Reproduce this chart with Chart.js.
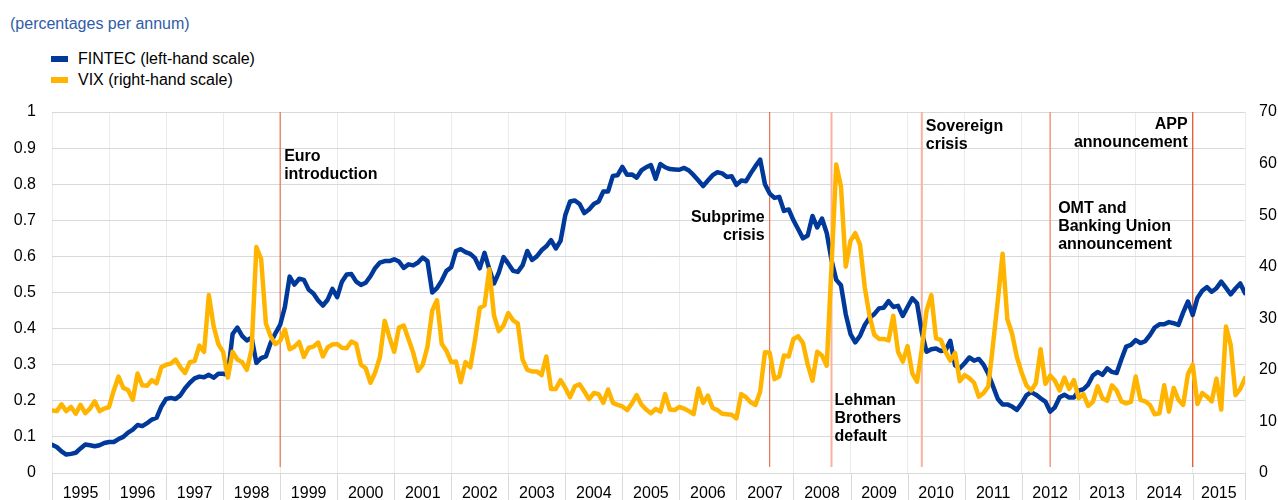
<!DOCTYPE html>
<html>
<head>
<meta charset="utf-8">
<script src="https://cdn.jsdelivr.net/npm/chart.js@4.4.1/dist/chart.umd.min.js"></script>
<style>
  body { margin: 0; background: #fff; font-family: 'Liberation Sans', Arial, sans-serif; }
  #wrap { position: relative; width: 1278px; height: 500px; overflow: hidden; }
  #title { position: absolute; left: 10px; top: 15px; font-size: 16px; line-height: 18px; color: #2f5da8; }
  .legend-item { position: absolute; left: 51px; font-size: 16px; line-height: 18px; color: #000; white-space: nowrap; }
  .legend-item .swatch { position: absolute; left: 0; top: 6px; width: 17px; height: 6px; }
  .legend-item .text { margin-left: 27px; }
  canvas { position: absolute; left: 0; top: 0; }
</style>
</head>
<body>
<div id="wrap">
  <div id="title">(percentages per annum)</div>
  <div class="legend-item" style="top: 50px;"><span class="swatch" style="background:#00399a"></span><span class="text">FINTEC (left-hand scale)</span></div>
  <div class="legend-item" style="top: 71px;"><span class="swatch" style="background:#ffb400"></span><span class="text">VIX (right-hand scale)</span></div>
  <canvas id="chart" width="1278" height="500"></canvas>
</div>
<script>
// year labels on the time axis (monthly data, Jan 1995 - Dec 2015)
const years = ['1995', '1996', '1997', '1998', '1999', '2000', '2001', '2002', '2003', '2004', '2005',
    '2006', '2007', '2008', '2009', '2010', '2011', '2012', '2013', '2014', '2015'];

// left-hand scale ticks / right-hand scale ticks
const leftTicks = [0, 0.1, 0.2, 0.3, 0.4, 0.5, 0.6, 0.7, 0.8, 0.9, 1];
const rightTicks = [0, 10, 20, 30, 40, 50, 60, 70];

// FINTEC, monthly (left-hand scale)
const fintec = [
    0.078, 0.072, 0.060, 0.051, 0.053, 0.056, 0.068, 0.079, 0.077, 0.074, 0.077, 0.083, // 1995
    0.086, 0.086, 0.094, 0.100, 0.112, 0.120, 0.133, 0.130, 0.138, 0.148, 0.153, 0.184, // 1996
    0.205, 0.208, 0.205, 0.215, 0.235, 0.250, 0.262, 0.267, 0.265, 0.272, 0.264, 0.275, // 1997
    0.275, 0.272, 0.385, 0.403, 0.380, 0.367, 0.375, 0.305, 0.318, 0.323, 0.360, 0.387, // 1998
    0.410, 0.460, 0.544, 0.522, 0.538, 0.535, 0.508, 0.497, 0.478, 0.464, 0.480, 0.510, // 1999
    0.487, 0.530, 0.550, 0.551, 0.530, 0.521, 0.527, 0.545, 0.568, 0.583, 0.587, 0.587, // 2000
    0.592, 0.586, 0.568, 0.578, 0.575, 0.583, 0.597, 0.587, 0.500, 0.512, 0.533, 0.560, // 2001
    0.570, 0.615, 0.620, 0.612, 0.607, 0.595, 0.567, 0.610, 0.565, 0.525, 0.555, 0.598, // 2002
    0.580, 0.560, 0.557, 0.575, 0.615, 0.590, 0.600, 0.617, 0.628, 0.645, 0.622, 0.643, // 2003
    0.715, 0.752, 0.755, 0.745, 0.720, 0.730, 0.745, 0.752, 0.780, 0.780, 0.823, 0.825, // 2004
    0.848, 0.826, 0.827, 0.818, 0.838, 0.847, 0.853, 0.815, 0.856, 0.847, 0.842, 0.841, // 2005
    0.840, 0.845, 0.838, 0.825, 0.810, 0.795, 0.810, 0.825, 0.833, 0.830, 0.820, 0.822, // 2006
    0.798, 0.810, 0.808, 0.830, 0.850, 0.868, 0.800, 0.774, 0.762, 0.765, 0.726, 0.730, // 2007
    0.700, 0.675, 0.650, 0.658, 0.712, 0.680, 0.705, 0.665, 0.590, 0.535, 0.520, 0.440, // 2008
    0.385, 0.362, 0.380, 0.410, 0.430, 0.440, 0.456, 0.458, 0.476, 0.460, 0.463, 0.435, // 2009
    0.460, 0.484, 0.470, 0.390, 0.336, 0.343, 0.345, 0.338, 0.340, 0.366, 0.298, 0.290, // 2010
    0.304, 0.320, 0.311, 0.316, 0.300, 0.274, 0.240, 0.205, 0.190, 0.190, 0.184, 0.175, // 2011
    0.193, 0.215, 0.224, 0.217, 0.207, 0.198, 0.170, 0.182, 0.210, 0.217, 0.209, 0.209, // 2012
    0.228, 0.232, 0.245, 0.270, 0.280, 0.272, 0.290, 0.280, 0.277, 0.315, 0.350, 0.355, // 2013
    0.368, 0.360, 0.365, 0.382, 0.403, 0.412, 0.412, 0.418, 0.415, 0.410, 0.445, 0.475, // 2014
    0.438, 0.485, 0.505, 0.515, 0.502, 0.512, 0.530, 0.513, 0.495, 0.511, 0.525, 0.498  // 2015
];

// VIX, monthly (right-hand scale)
const vix = [
    12.1, 12.0, 13.3, 12.0, 12.8, 11.5, 13.2, 11.6, 12.5, 13.9, 12.0, 12.5, // 1995
    12.8, 16.0, 18.7, 16.5, 16.1, 14.2, 19.3, 17.0, 16.9, 18.0, 17.4, 20.5, // 1996
    21.0, 21.2, 22.0, 20.5, 19.4, 21.5, 21.7, 24.7, 23.5, 34.5, 28.5, 25.0, // 1997
    23.5, 18.5, 23.5, 22.0, 21.5, 20.0, 24.0, 43.8, 41.5, 29.0, 26.5, 25.0, // 1998
    25.6, 27.8, 24.0, 24.5, 25.4, 22.5, 24.3, 24.5, 25.3, 22.6, 24.4, 24.9, // 1999
    25.0, 24.3, 24.2, 25.5, 25.0, 21.0, 20.3, 17.5, 19.5, 22.5, 29.5, 26.3, // 2000
    23.5, 28.2, 28.6, 26.0, 23.3, 19.8, 21.0, 24.5, 31.5, 33.5, 25.0, 23.7, // 2001
    21.5, 21.6, 17.6, 21.5, 20.5, 25.8, 32.0, 32.5, 39.5, 30.5, 27.5, 28.6, // 2002
    31.0, 29.6, 29.0, 22.0, 20.0, 19.7, 19.7, 19.0, 22.6, 16.3, 16.3, 18.0, // 2003
    16.5, 14.7, 16.8, 17.2, 15.8, 14.3, 15.5, 15.3, 13.6, 16.2, 13.6, 13.2, // 2004
    12.9, 12.2, 13.5, 15.1, 13.3, 12.3, 11.6, 12.4, 11.9, 15.3, 12.3, 12.2, // 2005
    12.8, 12.5, 12.0, 11.4, 16.4, 13.6, 15.0, 12.6, 12.2, 11.5, 11.4, 11.3, // 2006
    10.6, 15.3, 14.7, 13.7, 13.2, 15.8, 23.4, 23.3, 18.2, 18.7, 22.8, 22.6, // 2007
    26.0, 26.5, 25.2, 21.0, 17.9, 23.5, 22.8, 20.8, 40.0, 59.8, 55.5, 40.0, // 2008
    45.0, 46.5, 44.3, 36.0, 30.5, 26.8, 26.0, 26.0, 25.7, 30.5, 23.5, 21.6, // 2009
    24.6, 19.3, 17.7, 24.0, 31.5, 34.5, 26.1, 25.8, 23.5, 21.8, 23.3, 17.8, // 2010
    19.0, 18.4, 17.5, 14.8, 15.5, 16.8, 25.0, 33.5, 42.5, 29.8, 27.0, 22.5, // 2011
    19.5, 17.0, 16.0, 17.4, 24.0, 17.3, 18.9, 17.9, 16.0, 18.5, 16.3, 18.0, // 2012
    14.5, 15.3, 13.0, 13.8, 16.8, 14.5, 14.0, 17.0, 16.0, 13.9, 13.5, 13.8, // 2013
    18.7, 14.2, 13.9, 13.2, 11.4, 11.6, 17.0, 11.9, 16.5, 14.2, 13.2, 19.2, // 2014
    21.0, 13.4, 15.5, 14.8, 13.9, 18.3, 12.3, 28.4, 24.8, 15.1, 16.3, 18.4  // 2015
];

// events marked with vertical lines (date as fractional year)
const eventDates = [1999 + 0 / 12, 2007 + 7 / 12, 2008 + 8 / 12, 2010 + 3 / 12, 2012 + 6 / 12, 2015 + 0 / 12];
const eventLabels = [
    ['Euro', 'introduction'],
    ['Subprime', 'crisis'],
    ['Lehman', 'Brothers', 'default'],
    ['Sovereign', 'crisis'],
    ['OMT and', 'Banking Union', 'announcement'],
    ['APP', 'announcement']
];

const FONT = "'Liberation Sans', Arial, sans-serif";
const xMin = 1995;
const xMax = 2015 + 11 / 12;

// look of each event line and where its label sits
const eventStyle = [
    { color: '#e4572e', width: 1, align: 'left', dx: 4, y: 157 },
    { color: '#e4572e', width: 1, align: 'right', dx: -5, y: 218 },
    { color: '#f7b39c', width: 2, align: 'left', dx: 3, y: 401 },
    { color: '#f7b39c', width: 2, align: 'left', dx: 4, y: 127 },
    { color: '#ee8a6a', width: 1.3, align: 'left', dx: 8, y: 209 },
    { color: '#e4572e', width: 1.3, align: 'right', dx: -5, y: 125 }
];

const eventPlugin = {
    id: 'events',
    beforeDatasetsDraw(chart) {
        const { ctx, chartArea, scales } = chart;
        ctx.save();
        eventDates.forEach((d, k) => {
            const x = scales.x.getPixelForValue(d);
            ctx.strokeStyle = eventStyle[k].color;
            ctx.lineWidth = eventStyle[k].width;
            ctx.beginPath();
            ctx.moveTo(x, chartArea.top);
            ctx.lineTo(x, chartArea.bottom - 6);
            ctx.stroke();
        });
        // year separators below the axis
        ctx.strokeStyle = '#d9d9d9';
        ctx.lineWidth = 1;
        const marks = years.map(Number).concat([xMax]);
        marks.forEach(v => {
            const x = Math.round(scales.x.getPixelForValue(v)) + 0.5;
            ctx.beginPath();
            ctx.moveTo(x, chartArea.bottom);
            ctx.lineTo(x, chart.height);
            ctx.stroke();
        });
        ctx.restore();
    },
    afterDatasetsDraw(chart) {
        const { ctx, scales } = chart;
        ctx.save();
        ctx.font = 'bold 16px ' + FONT;
        ctx.fillStyle = '#000';
        ctx.textBaseline = 'middle';
        eventLabels.forEach((lines, k) => {
            const st = eventStyle[k];
            const x = scales.x.getPixelForValue(eventDates[k]) + st.dx;
            ctx.textAlign = st.align;
            lines.forEach((t, j) => ctx.fillText(t, x, st.y + j * 18));
        });
        ctx.restore();
    }
};

const ctx = document.getElementById('chart').getContext('2d');
new Chart(ctx, {
    type: 'line',
    data: {
        datasets: [
            {
                label: 'FINTEC (left-hand scale)',
                data: fintec.map((v, i) => ({ x: xMin + i / 12, y: v })),
                borderColor: '#00399a',
                borderWidth: 4.5,
                yAxisID: 'y',
                order: 1
            },
            {
                label: 'VIX (right-hand scale)',
                data: vix.map((v, i) => ({ x: xMin + i / 12, y: v })),
                borderColor: '#ffb400',
                borderWidth: 4.5,
                yAxisID: 'y2',
                order: 0
            }
        ]
    },
    options: {
        responsive: false,
        animation: false,
        elements: {
            point: { radius: 0 },
            line: { tension: 0, borderJoinStyle: 'round', borderCapStyle: 'round' }
        },
        layout: { padding: { top: 112, left: 0, right: 0, bottom: 0 } },
        plugins: {
            legend: { display: false },
            tooltip: { enabled: false }
        },
        scales: {
            x: {
                type: 'linear',
                min: xMin,
                max: xMax,
                afterBuildTicks(scale) {
                    const t = [];
                    years.forEach((y, k) => {
                        const start = Number(y);
                        const end = k < years.length - 1 ? start + 1 : xMax;
                        t.push({ value: start });
                        t.push({ value: (start + end) / 2, yr: y });
                    });
                    t.push({ value: xMax });
                    scale.ticks = t;
                },
                afterFit(scale) { scale.height = 27; },
                grid: {
                    color: c => (c.tick && c.tick.yr) ? 'rgba(0,0,0,0)' : '#ebebeb',
                    lineWidth: 1,
                    drawTicks: false
                },
                border: { display: false },
                ticks: {
                    autoSkip: false,
                    maxRotation: 0,
                    padding: 11,
                    color: '#000',
                    font: { family: FONT, size: 16 },
                    callback: (value, index, ticks) => ticks[index].yr || ''
                }
            },
            y: {
                position: 'left',
                min: 0,
                max: 1,
                afterBuildTicks(scale) { scale.ticks = leftTicks.map(v => ({ value: v })); },
                afterFit(scale) { scale.width = 52; },
                grid: { color: '#d9d9d9', lineWidth: 1, drawTicks: false },
                border: { display: false },
                ticks: {
                    padding: 16,
                    color: '#000',
                    font: { family: FONT, size: 16 },
                    callback: v => String(Math.round(v * 10) / 10)
                }
            },
            y2: {
                position: 'right',
                min: 0,
                max: 70,
                afterBuildTicks(scale) { scale.ticks = rightTicks.map(v => ({ value: v })); },
                afterFit(scale) { scale.width = 33; },
                grid: { drawOnChartArea: false, drawTicks: false },
                border: { display: false },
                ticks: {
                    padding: 14,
                    color: '#000',
                    font: { family: FONT, size: 16 },
                    callback: v => String(v)
                }
            }
        }
    },
    plugins: [eventPlugin]
});
</script>
</body>
</html>
